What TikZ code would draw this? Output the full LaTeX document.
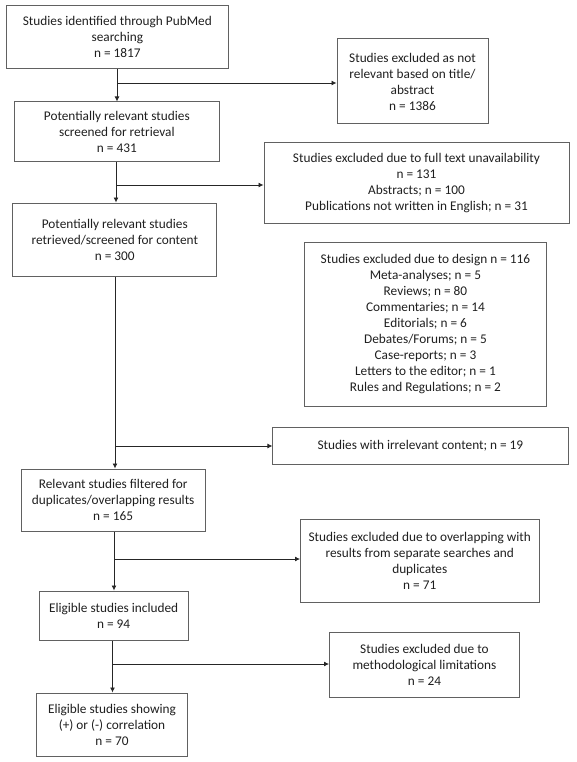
\documentclass[tikz,border=0pt]{standalone}
\usepackage{fontspec}
\setmainfont{Carlito}
\usetikzlibrary{arrows.meta}
\begin{document}
\begin{tikzpicture}[x=1pt,y=-1pt,
  box/.style={draw=black!62,line width=1pt,align=center,inner sep=0pt,font=\fontsize{13.3}{16}\selectfont,text=black!88},
  arr/.style={draw=black!85,line width=0.8pt,-{Latex[length=5pt,width=5pt]}}]
\useasboundingbox (0,0) rectangle (576,762);
\node[box,minimum width=221.3pt,minimum height=62.5pt] (b1) at (117.35,37.25) {Studies identified through PubMed\\searching\\n = 1817};
\node[box,minimum width=151pt,minimum height=85pt] (e1) at (412.5,81.5) {Studies excluded as not\\relevant based on title/\\abstract\\n = 1386};
\node[box,minimum width=204.3pt,minimum height=60pt] (b2) at (116.85,132) {Potentially relevant studies\\screened for retrieval\\n = 431};
\node[box,minimum width=305pt,minimum height=80pt] (e2) at (416.5,183) {Studies excluded due to full text unavailability\\n = 131\\Abstracts; n = 100\\Publications not written in English; n = 31};
\node[box,minimum width=203.8pt,minimum height=73pt] (b3) at (114.8,239.5) {Potentially relevant studies\\retrieved/screened for content\\n = 300};
\node[box,minimum width=241.1pt,minimum height=164pt] (e3) at (425.45,324) {Studies excluded due to design n = 116\\Meta-analyses; n = 5\\Reviews; n = 80\\Commentaries; n = 14\\Editorials; n = 6\\Debates/Forums; n = 5\\Case-reports; n = 3\\Letters to the editor; n = 1\\Rules and Regulations; n = 2};
\node[box,minimum width=295.1pt,minimum height=37pt] (e4) at (420.45,445.5) {Studies with irrelevant content; n = 19};
\node[box,minimum width=183.7pt,minimum height=62pt] (b4) at (113.15,500) {Relevant studies filtered for\\duplicates/overlapping results\\n = 165};
\node[box,minimum width=238.5pt,minimum height=83pt] (e5) at (419.75,560.5) {Studies excluded due to overlapping with\\results from separate searches and\\duplicates\\n = 71};
\node[box,minimum width=148.7pt,minimum height=49pt] (b5) at (113.65,615.5) {Eligible studies included\\n = 94};
\node[box,minimum width=189.9pt,minimum height=65pt] (e6) at (424.45,664.5) {Studies excluded due to\\methodological limitations\\n = 24};
\node[box,minimum width=150.6pt,minimum height=63pt] (b6) at (112,724.5) {Eligible studies showing\\(+) or (-) correlation\\n = 70};
\coordinate (j1) at (117,83);
\coordinate (j2) at (116,185);
\coordinate (j3) at (115,446);
\coordinate (j4) at (114,559);
\coordinate (j5) at (112.5,664);
\draw[arr] (b1.south -| j1) -- (b2.north -| j1);
\draw[arr] (j1) -- (e1.west |- j1);
\draw[arr] (b2.south -| j2) -- (b3.north -| j2);
\draw[arr] (j2) -- (e2.west |- j2);
\draw[arr] (b3.south -| j3) -- (b4.north -| j3);
\draw[arr] (j3) -- (e4.west |- j3);
\draw[arr] (b4.south -| j4) -- (b5.north -| j4);
\draw[arr] (j4) -- (e5.west |- j4);
\draw[arr] (b5.south -| j5) -- (b6.north -| j5);
\draw[arr] (j5) -- (e6.west |- j5);
\end{tikzpicture}
\end{document}
